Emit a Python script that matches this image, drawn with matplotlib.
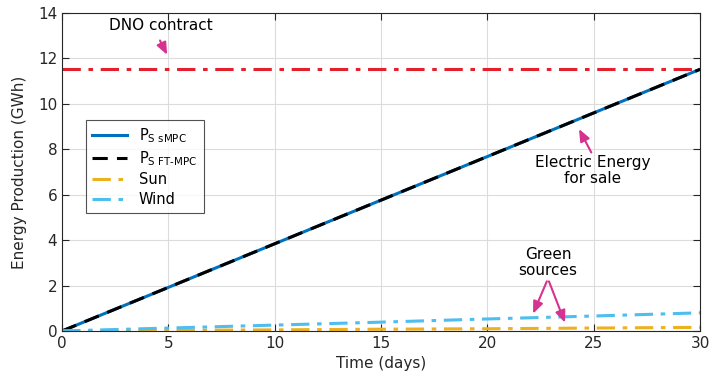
import matplotlib
matplotlib.use("Agg")
import matplotlib.pyplot as plt

# Cumulative energy over the month (GWh)
days = [0, 5, 10, 15, 20, 25, 30]
p_smpc = [0.0, 1.92, 3.84, 5.76, 7.68, 9.60, 11.52]
p_ftmpc = [0.0, 1.92, 3.84, 5.76, 7.68, 9.60, 11.52]
sun = [0.0, 0.03, 0.05, 0.08, 0.10, 0.13, 0.16]
wind = [0.0, 0.13, 0.26, 0.39, 0.53, 0.66, 0.80]
dno_days = [0, 30]
dno_contract = [11.52, 11.52]

plt.rcParams['font.family'] = ['DejaVu Sans']
fig = plt.figure(figsize=(7.11, 3.85), dpi=100)
ax = fig.add_axes([62/711, 1 - 331/385, 638/711, 318/385])

ax.plot(dno_days, dno_contract, color='#E3202B', lw=2.2, ls=(0, (6, 2.5, 1.5, 2.5)))
ax.plot(days, p_smpc, color='#0072BD', lw=2.2, label=r'P$_{\mathregular{S\ sMPC}}$')
ax.plot(days, p_ftmpc, color='black', lw=2.2, ls=(0, (5, 3)), label=r'P$_{\mathregular{S\ FT\text{-}MPC}}$')
ax.plot(days, sun, color='#EDB120', lw=2.2, ls=(0, (6, 2.5, 1.5, 2.5)), label='Sun')
ax.plot(days, wind, color='#4DBEEE', lw=2.2, ls=(0, (6, 2.5, 1.5, 2.5)), label='Wind')

ax.set_xlim(0, 30)
ax.set_ylim(0, 14)
ax.set_xticks(range(0, 31, 5))
ax.set_yticks(range(0, 15, 2))
ax.grid(True, color='#DCDCDC', lw=0.8)
ax.set_axisbelow(True)
ax.tick_params(direction='in', top=True, right=True, labelsize=11, colors='#262626', length=5)
for s in ax.spines.values():
    s.set_color('#262626')
    s.set_linewidth(0.8)
ax.set_xlabel('Time (days)', fontsize=11, color='#262626')
ax.set_ylabel('Energy Production (GWh)', fontsize=11, color='#262626', labelpad=8)

leg = ax.legend(loc='upper left', bbox_to_anchor=(0.037, 0.665), borderaxespad=0,
                fontsize=10.5, frameon=True, fancybox=False, edgecolor='#262626',
                handlelength=2.4, borderpad=0.45, labelspacing=0.3)
leg.get_frame().set_linewidth(0.8)

arrow_kw = dict(arrowstyle='-|>,head_length=0.6,head_width=0.25', color='#D6338F',
                lw=1.5, mutation_scale=12)
ax.text(4.65, 13.45, 'DNO contract', ha='center', va='center', fontsize=11)
ax.annotate('', xy=(5.0, 12.05), xytext=(4.55, 12.9), arrowprops=arrow_kw)

ax.text(24.95, 7.05, 'Electric Energy\nfor sale', ha='center', va='center', fontsize=11,
        linespacing=1.1)
ax.annotate('', xy=(24.25, 9.0), xytext=(24.95, 7.75), arrowprops=arrow_kw)

ax.text(22.85, 3.0, 'Green\nsources', ha='center', va='center', fontsize=11, linespacing=1.1)
ax.annotate('', xy=(22.1, 0.65), xytext=(22.85, 2.3), arrowprops=arrow_kw)
ax.annotate('', xy=(23.7, 0.25), xytext=(22.85, 2.3), arrowprops=arrow_kw)

fig.savefig('out.png', dpi=100)
